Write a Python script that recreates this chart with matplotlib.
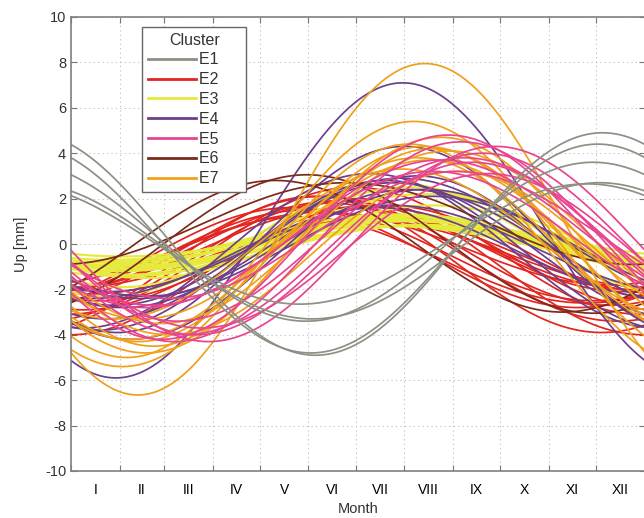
import numpy as np
import matplotlib.pyplot as plt
from matplotlib.lines import Line2D

plt.rcParams['font.family'] = ['Liberation Sans', 'DejaVu Sans']
plt.rcParams['axes.unicode_minus'] = False

months = ["I", "II", "III", "IV", "V", "VI", "VII", "VIII", "IX", "X", "XI", "XII"]
month_days = [31, 28, 31, 30, 31, 30, 31, 31, 30, 31, 30, 31]

clusters = ["E1", "E2", "E3", "E4", "E5", "E6", "E7"]
colors = ["#8b9183", "#e2251f", "#e6ea3c", "#6b3f8c", "#e8458f", "#7b2a1c", "#f0a01a"]

# seasonal signal of each station:
# mean offset [mm], annual amplitude [mm], day of year of the peak
e1_mean = [0.0, -0.2, 0.1, -0.3, 0.0]
e1_amp = [4.9, 4.6, 3.5, 3.0, 2.65]
e1_peak = [338, 335, 332, 336, 328]

e2_mean = [-0.3, -0.5, -0.2, -0.8, -0.4, -0.6, -0.1, -0.9, -0.5, -0.3, -0.7, -1.0, -0.2, -0.6, -0.4]
e2_amp = [2.4, 2.0, 1.8, 2.6, 1.5, 2.2, 2.0, 3.0, 1.7, 2.8, 1.9, 3.0, 1.6, 2.3, 2.1]
e2_peak = [160, 150, 175, 165, 185, 140, 170, 155, 195, 180, 145, 182, 160, 190, 200]

e3_mean = [0.0, 0.15, -0.15, 0.25, -0.2, 0.05, 0.2, -0.25, 0.1, -0.05, 0.3, 0.2, 0.4, 0.1, -0.1, 0.25]
e3_amp = [1.0, 1.1, 0.95, 1.05, 1.0, 1.15, 0.9, 1.1, 1.2, 0.85, 2.2, 2.5, 1.8, 1.6, 1.3, 0.8]
e3_peak = [215, 210, 220, 205, 212, 218, 208, 222, 214, 200, 215, 205, 225, 230, 210, 215]

e4_mean = [0.6, -0.3, -0.2, 0.0, -0.5, -0.4, 0.1, -0.6, -0.1, -0.3, -0.2, 0.2]
e4_amp = [6.5, 3.0, 2.6, 2.4, 3.3, 2.0, 2.8, 3.6, 2.2, 3.4, 1.9, 4.1]
e4_peak = [211, 205, 215, 225, 200, 195, 210, 220, 230, 190, 205, 212]

e5_mean = [0.0, 0.3, 0.2, -0.2, 0.5, 0.0, 0.4, -0.3, 0.1, 0.2]
e5_amp = [4.3, 4.5, 3.6, 3.8, 3.2, 4.0, 2.8, 3.4, 4.4, 3.0]
e5_peak = [270, 240, 250, 255, 235, 262, 245, 265, 248, 230]

e6_mean = [0.0, -0.1, 0.9]
e6_amp = [3.05, 2.9, 1.8]
e6_peak = [150, 130, 175]

e7_mean = [0.65, 0.2, 0.0, -0.3, 0.3, -0.2, 0.1, -0.5, 0.2, 0.0, -0.4]
e7_amp = [7.3, 5.2, 4.3, 4.5, 3.8, 4.0, 4.6, 4.9, 3.5, 3.3, 3.6]
e7_peak = [225, 218, 225, 230, 240, 220, 235, 215, 228, 210, 245]

params = {
    "E1": (e1_mean, e1_amp, e1_peak),
    "E2": (e2_mean, e2_amp, e2_peak),
    "E3": (e3_mean, e3_amp, e3_peak),
    "E4": (e4_mean, e4_amp, e4_peak),
    "E5": (e5_mean, e5_amp, e5_peak),
    "E6": (e6_mean, e6_amp, e6_peak),
    "E7": (e7_mean, e7_amp, e7_peak),
}

bounds = np.concatenate([[0], np.cumsum(month_days)])
centers = (bounds[:-1] + bounds[1:]) / 2
day = np.linspace(0, 365, 400)

fig = plt.figure(figsize=(6.44, 5.18), dpi=100)
ax = fig.add_axes([71 / 644, 47 / 518, 574 / 644, 454 / 518])

draw_order = ["E2", "E3", "E4", "E6", "E7", "E5", "E1"]
for name in draw_order:
    col = colors[clusters.index(name)]
    mean, amp, peak = params[name]
    lw = 1.6 if name == "E3" else 1.25
    for c, a, p in zip(mean, amp, peak):
        ax.plot(day, c + a * np.cos(2 * np.pi * (day - p) / 365), color=col, lw=lw)

ax.set_xlim(0, 365)
ax.set_ylim(-10, 10)
ax.set_yticks(np.arange(-10, 11, 2))
ax.set_xticks(bounds)
ax.set_xticklabels([])
ax.set_xticks(centers, minor=True)
ax.set_xticklabels(months, minor=True)
ax.tick_params(axis="x", which="minor", length=0, pad=9)
ax.tick_params(which="major", direction="in", length=4, top=True, right=True,
               color="#777777", width=0.8)
ax.tick_params(labelsize=10.5, labelcolor="#333333")
ax.grid(True, which="major", linestyle=(0, (1, 3)), color="#bbbbbb", lw=0.8)
for s in ax.spines.values():
    s.set_color("#808080")
    s.set_linewidth(1.2)

ax.set_xlabel("Month", fontsize=10.5, color="#333333", labelpad=3)
ax.set_ylabel("Up [mm]", fontsize=10.5, color="#333333", labelpad=12)

handles = [Line2D([], [], color=c, lw=2) for c in colors]
labels = [name + "     " for name in clusters]
leg = ax.legend(handles, labels, title="Cluster", loc="upper left",
                bbox_to_anchor=(71 / 574, 1 - 10 / 454), fontsize=11.5,
                title_fontsize=11.5, handlelength=3.0, handletextpad=0.2,
                labelspacing=0.3, borderpad=0.35, fancybox=False, framealpha=1,
                edgecolor="#666666", borderaxespad=0, labelcolor="#333333")
leg.get_title().set_color("#333333")
leg.get_frame().set_linewidth(1.0)

fig.savefig("out.png", dpi=100)
